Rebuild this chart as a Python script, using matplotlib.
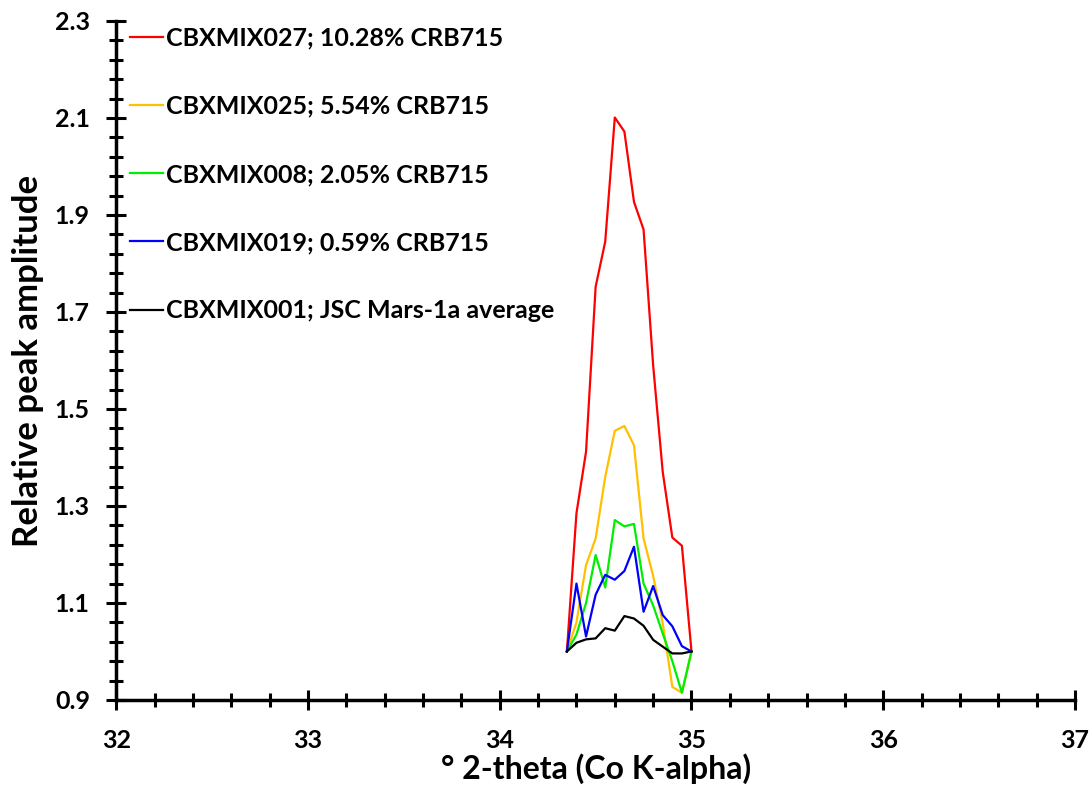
import numpy as np
import matplotlib.pyplot as plt
from matplotlib.ticker import MultipleLocator, FixedLocator

# 2-theta positions (Co K-alpha)
two_theta = [34.35, 34.40, 34.45, 34.50, 34.55, 34.60, 34.65,
             34.70, 34.75, 34.80, 34.85, 34.90, 34.95, 35.00]

mix027 = [1.000, 1.285, 1.412, 1.752, 1.845, 2.101, 2.072,
          1.927, 1.870, 1.590, 1.370, 1.235, 1.218, 1.000]
mix025 = [1.000, 1.060, 1.178, 1.233, 1.360, 1.455, 1.465,
          1.425, 1.233, 1.156, 1.058, 0.927, 0.915, 1.000]
mix008 = [1.000, 1.035, 1.100, 1.199, 1.132, 1.271, 1.258,
          1.263, 1.140, 1.095, 1.037, 0.980, 0.915, 1.000]
mix019 = [1.000, 1.140, 1.031, 1.117, 1.158, 1.148, 1.166,
          1.216, 1.082, 1.135, 1.075, 1.052, 1.011, 1.000]
mix001 = [1.000, 1.018, 1.025, 1.027, 1.048, 1.043, 1.073,
          1.068, 1.053, 1.024, 1.010, 0.996, 0.996, 1.000]

labels = [
    'CBXMIX027; 10.28% CRB715',
    'CBXMIX025; 5.54% CRB715',
    'CBXMIX008; 2.05% CRB715',
    'CBXMIX019; 0.59% CRB715',
    'CBXMIX001; JSC Mars-1a average',
]
colors = ['#FF0000', '#FFC000', '#00EE00', '#0000FF', '#000000']

plt.rcParams['font.family'] = ['Lato', 'DejaVu Sans']
plt.rcParams['font.weight'] = 'bold'

fig = plt.figure(figsize=(10.92, 7.94), dpi=100)
ax = fig.add_axes([0.1065, 0.1184, 0.8779, 0.8552])

for ys, lab, col in zip([mix027, mix025, mix008, mix019, mix001], labels, colors):
    ax.plot(two_theta, ys, color=col, linewidth=1.6, label=lab)

ax.set_xlim(32, 37)
ax.set_ylim(0.9, 2.3)
ax.xaxis.set_major_locator(MultipleLocator(1))
ax.xaxis.set_minor_locator(MultipleLocator(0.2))
ax.yaxis.set_major_locator(FixedLocator(np.round(np.arange(0.9, 2.31, 0.2), 2)))
ax.yaxis.set_minor_locator(FixedLocator(np.round(np.arange(0.9, 2.31, 0.04), 3)))
ax.yaxis.set_major_formatter(plt.FuncFormatter(lambda v, p: f'{v:.1f}'))

for s in ['top', 'right']:
    ax.spines[s].set_visible(False)
for s in ['left', 'bottom']:
    ax.spines[s].set_linewidth(2.5)

ax.tick_params(which='major', direction='inout', length=14, width=2.2,
               labelsize=18, pad=12)
ax.tick_params(which='minor', direction='inout', length=10, width=2.2)
ax.tick_params(axis='x', which='major', pad=14)
for t in ax.get_xticklabels() + ax.get_yticklabels():
    t.set_fontweight('bold')

ax.set_xlabel('° 2-theta (Co K-alpha)', fontsize=23, fontweight='bold', labelpad=1)
ax.set_ylabel('Relative peak amplitude', fontsize=25, fontweight='bold', labelpad=8)

ax.legend(loc='upper left', bbox_to_anchor=(-0.001, 1.014), frameon=False,
          fontsize=18, handlelength=1.3, handletextpad=0.12,
          labelspacing=1.81, borderaxespad=0.2)

fig.savefig('out.png', dpi=100)
